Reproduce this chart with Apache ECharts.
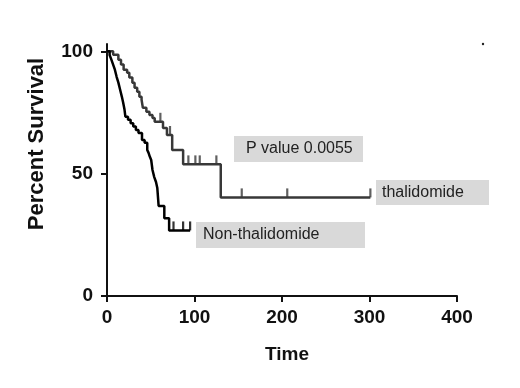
<!DOCTYPE html>
<html>
<head>
<meta charset="utf-8">
<script src="https://cdn.jsdelivr.net/npm/echarts@6/dist/echarts.min.js"></script>
<style>
  html, body { margin: 0; padding: 0; background: #fff; }
  #chart { width: 520px; height: 388px; }
</style>
</head>
<body>
<div id="chart"></div>
<script>
// Kaplan-Meier: thalidomide vs non-thalidomide

// thalidomide group (step points: time, percent survival)
const thalTime = [0, 7, 13, 16, 19, 23, 25.5, 29, 31.5, 34.5, 37, 39.5, 41, 45, 48.5, 52, 54.5, 64, 68.5, 74.5, 87, 130, 301];
const thalSurv = [100, 98.6, 96.6, 94.6, 92.5, 91.3, 89.3, 87.2, 85.1, 83.5, 81.4, 80.2, 76.9, 75.3, 74, 72.8, 71.2, 68.7, 65.8, 59.7, 53.8, 40.3, 40.3];
// censored marks
const thalCensorTime = [61, 72, 93, 101, 106, 125, 154, 206, 301];
const thalCensorSurv = [71.2, 65.8, 53.8, 53.8, 53.8, 53.8, 40.3, 40.3, 40.3];

// non-thalidomide group
const nonTime = [0, 3, 5, 7, 9, 11, 13, 15, 17, 18.5, 20, 21, 24, 27, 30, 33, 36, 40, 43, 46, 47.5, 49, 50.5, 52, 54, 56, 57.5, 59, 65.5, 71, 95];
const nonSurv = [100, 98.5, 96.6, 94.6, 92.5, 89.6, 87.2, 84.3, 81.4, 79, 76.2, 73.3, 72, 70.6, 69.3, 67.9, 66.6, 63.8, 62.6, 59.7, 58.5, 56.9, 55.6, 51.5, 48.6, 46.6, 44.1, 36.8, 31.8, 26.8, 26.8];
const nonCensorTime = [76, 87, 95];
const nonCensorSurv = [26.8, 26.8, 26.8];

// axis ticks
const xTicks = [0, 100, 200, 300, 400];
const yTicks = [0, 50, 100];

const FONT = '"Liberation Sans", Arial, sans-serif';

const pairs = (xs, ys) => xs.map((x, i) => [x, ys[i]]);

const chart = echarts.init(document.getElementById('chart'), null, { renderer: 'canvas' });

// shared axis style
const axisLineStyle = { show: true, lineStyle: { color: '#111', width: 2 } };

const option = {
    animation: false,
    backgroundColor: '#fff',
    grid: { left: 107, right: 63, top: 44, bottom: 92 },
    xAxis: {
        type: 'value',
        min: 0,
        max: 400,
        interval: 100,
        axisLine: axisLineStyle,
        axisTick: { show: true, length: 6, lineStyle: { color: '#111', width: 2 }, customValues: xTicks },
        axisLabel: { margin: 12, color: '#111', fontSize: 19, fontWeight: 'bold', fontFamily: FONT, customValues: xTicks },
        splitLine: { show: false }
    },
    yAxis: {
        type: 'value',
        min: 0,
        max: 103,
        axisLine: axisLineStyle,
        axisTick: { show: true, length: 6, lineStyle: { color: '#111', width: 2 }, customValues: yTicks },
        axisLabel: { margin: 14, color: '#111', fontSize: 19, fontWeight: 'bold', fontFamily: FONT, customValues: yTicks },
        splitLine: { show: false }
    },
    series: [
        {
            name: 'thalidomide',
            type: 'line',
            step: 'end',
            showSymbol: false,
            data: pairs(thalTime, thalSurv),
            lineStyle: { color: '#383838', width: 2.5 },
            z: 2
        },
        {
            name: 'thalidomide censored',
            type: 'scatter',
            symbol: 'rect',
            symbolSize: [2.2, 9],
            symbolOffset: [0, -4.5],
            data: pairs(thalCensorTime, thalCensorSurv),
            itemStyle: { color: '#383838' },
            z: 2
        },
        {
            name: 'Non-thalidomide',
            type: 'line',
            step: 'end',
            showSymbol: false,
            data: pairs(nonTime, nonSurv),
            lineStyle: { color: '#000', width: 2.5 },
            z: 3
        },
        {
            name: 'Non-thalidomide censored',
            type: 'scatter',
            symbol: 'rect',
            symbolSize: [2.2, 9],
            symbolOffset: [0, -4.5],
            data: pairs(nonCensorTime, nonCensorSurv),
            itemStyle: { color: '#000' },
            z: 3
        }
    ],
    graphic: [
        // axis titles
        {
            type: 'text', x: 287, y: 355,
            style: { text: 'Time', font: 'bold 19px ' + FONT, fill: '#111', align: 'center', verticalAlign: 'middle' }
        },
        {
            type: 'text', x: 37, y: 144, rotation: Math.PI / 2,
            style: { text: 'Percent Survival', font: 'bold 22px ' + FONT, fill: '#111', align: 'center', verticalAlign: 'middle' }
        },
        // annotation boxes
        { type: 'rect', shape: { x: 234, y: 136, width: 129, height: 26 }, style: { fill: '#d9d9d9' } },
        { type: 'text', x: 246, y: 149, style: { text: 'P value 0.0055', font: '16px ' + FONT, fill: '#222', verticalAlign: 'middle' } },
        { type: 'rect', shape: { x: 376, y: 180, width: 113, height: 25 }, style: { fill: '#d9d9d9' } },
        { type: 'text', x: 382, y: 193, style: { text: 'thalidomide', font: '16px ' + FONT, fill: '#222', verticalAlign: 'middle' } },
        { type: 'rect', shape: { x: 196, y: 222, width: 169, height: 26 }, style: { fill: '#d9d9d9' } },
        { type: 'text', x: 203, y: 235, style: { text: 'Non-thalidomide', font: '16px ' + FONT, fill: '#222', verticalAlign: 'middle' } },
        // small speck in the corner of the original
        { type: 'circle', shape: { cx: 483, cy: 44, r: 1.2 }, style: { fill: '#222' } }
    ]
};

chart.setOption(option);
</script>
</body>
</html>
